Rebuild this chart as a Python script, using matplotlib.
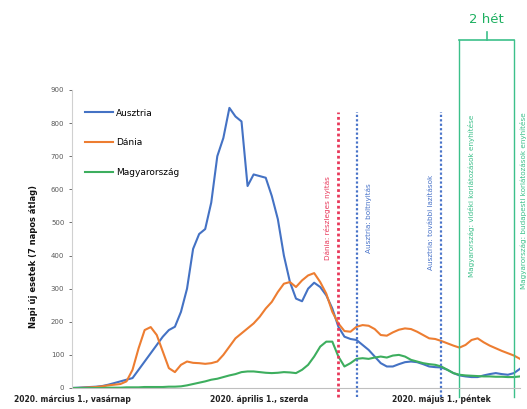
import matplotlib
matplotlib.use("Agg")
import matplotlib.pyplot as plt
import pandas as pd

# Daily new cases (smoothed), 2020-03-01 .. 2020-05-14
start_date = "2020-03-01"
austria = [0, 1, 2, 3, 4, 6, 10, 15, 20, 25, 30, 55, 80, 105, 130, 155, 175, 185, 230, 300,
           420, 465, 480, 560, 700, 755, 846, 820, 805, 610, 645, 640, 635, 580, 510, 400, 320,
           270, 262, 300, 318, 305, 280, 240, 185, 155, 148, 145, 130, 115, 95, 75, 65, 65,
           72, 78, 80, 78, 72, 65, 63, 62, 55, 45, 38, 35, 33, 33, 38, 42, 45, 42, 40, 45, 58]
denmark = [0, 0, 1, 2, 3, 5, 8, 10, 12, 20, 55, 120, 175, 184, 160, 110, 60, 48, 70, 80,
           76, 75, 73, 75, 80, 100, 125, 150, 165, 180, 195, 215, 240, 260, 290, 315, 320,
           305, 325, 340, 347, 320, 285, 230, 195, 172, 170, 185, 190, 188, 178, 160, 158, 168,
           176, 180, 178, 170, 160, 150, 148, 142, 135, 128, 122, 130, 145, 150, 138, 128, 120,
           112, 105, 98, 88]
hungary = [0, 0, 0, 0, 0, 0, 1, 1, 1, 2, 2, 2, 3, 3, 3, 3, 4, 4, 5, 8, 12, 16, 20, 25, 28,
           33, 38, 42, 48, 50, 50, 48, 46, 45, 46, 48, 47, 45, 55, 70, 95, 125, 140, 140, 95,
           65, 75, 88, 90, 88, 92, 95, 92, 98, 100, 95, 85, 80, 75, 72, 70, 65, 55, 45, 40, 38,
           37, 36, 35, 35, 34, 34, 33, 33, 35]
series_names = ["Ausztria", "Dánia", "Magyarország"]
series_colors = ["#4472C4", "#ED7D31", "#3DAE5E"]

tick_dates = ["2020-03-01", "2020-04-01", "2020-05-01"]
tick_labels = ["2020. március 1., vasárnap", "2020. április 1., szerda", "2020. május 1., péntek"]

# Policy events: date, label, colour
event_dates = ["2020-04-14", "2020-04-17", "2020-05-01", "2020-05-04", "2020-05-13"]
event_labels = ["Dánia: részleges nyitás",
                "Ausztria: boltnyitás",
                "Ausztria: további lazítások",
                "Magyarország: vidéki korlátozások enyhítése",
                "Magyarország: budapesti korlátozások enyhítése"]
event_colors = ["#E8385A", "#4A74C9", "#4A74C9", "#3CC08A", "#3CC08A"]
bracket_label = "2 hét"

dates = pd.date_range(start_date, periods=len(austria), freq="D")

fig = plt.figure(figsize=(5.27, 4.09), dpi=100)
ax = fig.add_axes([72 / 527, 21 / 409, 448 / 527, 298 / 409])

for vals, name, col in zip([austria, denmark, hungary], series_names, series_colors):
    ax.plot(dates, vals, color=col, lw=1.5, label=name, solid_joinstyle="round")

ax.set_xlim(dates[0], dates[-1])
ax.set_ylim(0, 900)
ax.set_yticks(range(0, 901, 100))
ax.tick_params(axis="y", labelsize=5, colors="#595959", length=2, width=0.6)
ax.set_xticks(pd.to_datetime(tick_dates))
ax.set_xticklabels(tick_labels, fontsize=5.5, color="#222222", fontweight="bold")
ax.tick_params(axis="x", length=0, pad=5)

for side in ["top", "right"]:
    ax.spines[side].set_visible(False)
ax.spines["left"].set_color("#D0D0D0")
ax.spines["bottom"].set_color("#BFBFBF")
ax.spines["left"].set_linewidth(0.8)
ax.spines["bottom"].set_linewidth(0.8)

ax.set_ylabel("Napi új esetek (7 napos átlag)", fontsize=6, fontweight="bold", color="#111111")
ax.yaxis.set_label_coords(-0.075, 0.44)

ax.legend(loc="upper left", bbox_to_anchor=(0.01, 0.965), frameon=False, fontsize=6.5,
          handlelength=3.2, labelspacing=2.3, handletextpad=0.3)

# Vertical event markers (extend past the plotting area)
trans = ax.get_xaxis_transform()
ev = pd.to_datetime(event_dates)
styles = [(0, (1, 1)), (0, (1, 1)), (0, (1, 1)), "-", "-"]
tops = [0.926, 0.926, 0.926, 1.168, 1.168]
widths = [2.0, 1.6, 1.6, 1.0, 1.0]
for d, c, ls, top, w in zip(ev, event_colors, styles, tops, widths):
    ax.plot([d, d], [-0.03, top], transform=trans, color=c, ls=ls, lw=w, clip_on=False)

# Rotated event captions
text_offsets = [-1.8, 2.0, -1.7, 2.0, 1.5]
text_centers = [0.57, 0.57, 0.555, 0.645, 0.63]
for d, lab, c, off, yc in zip(ev, event_labels, event_colors, text_offsets, text_centers):
    ax.text(d + pd.Timedelta(days=off), yc, lab, transform=trans, rotation=90,
            ha="center", va="center", fontsize=5.2, color=c, clip_on=False)

# Two-week bracket over the Hungarian reopening steps
b0, b1 = ev[3], ev[4]
mid = b0 + (b1 - b0) / 2
ax.plot([b0, b1], [1.168, 1.168], transform=trans, color=event_colors[3], lw=1.2, clip_on=False)
ax.plot([mid, mid], [1.168, 1.195], transform=trans, color=event_colors[3], lw=1.2, clip_on=False)
ax.text(mid, 1.215, bracket_label, transform=trans, ha="center", va="bottom",
        fontsize=9.5, color="#1DB060", clip_on=False)

fig.savefig("out.png", dpi=100)
